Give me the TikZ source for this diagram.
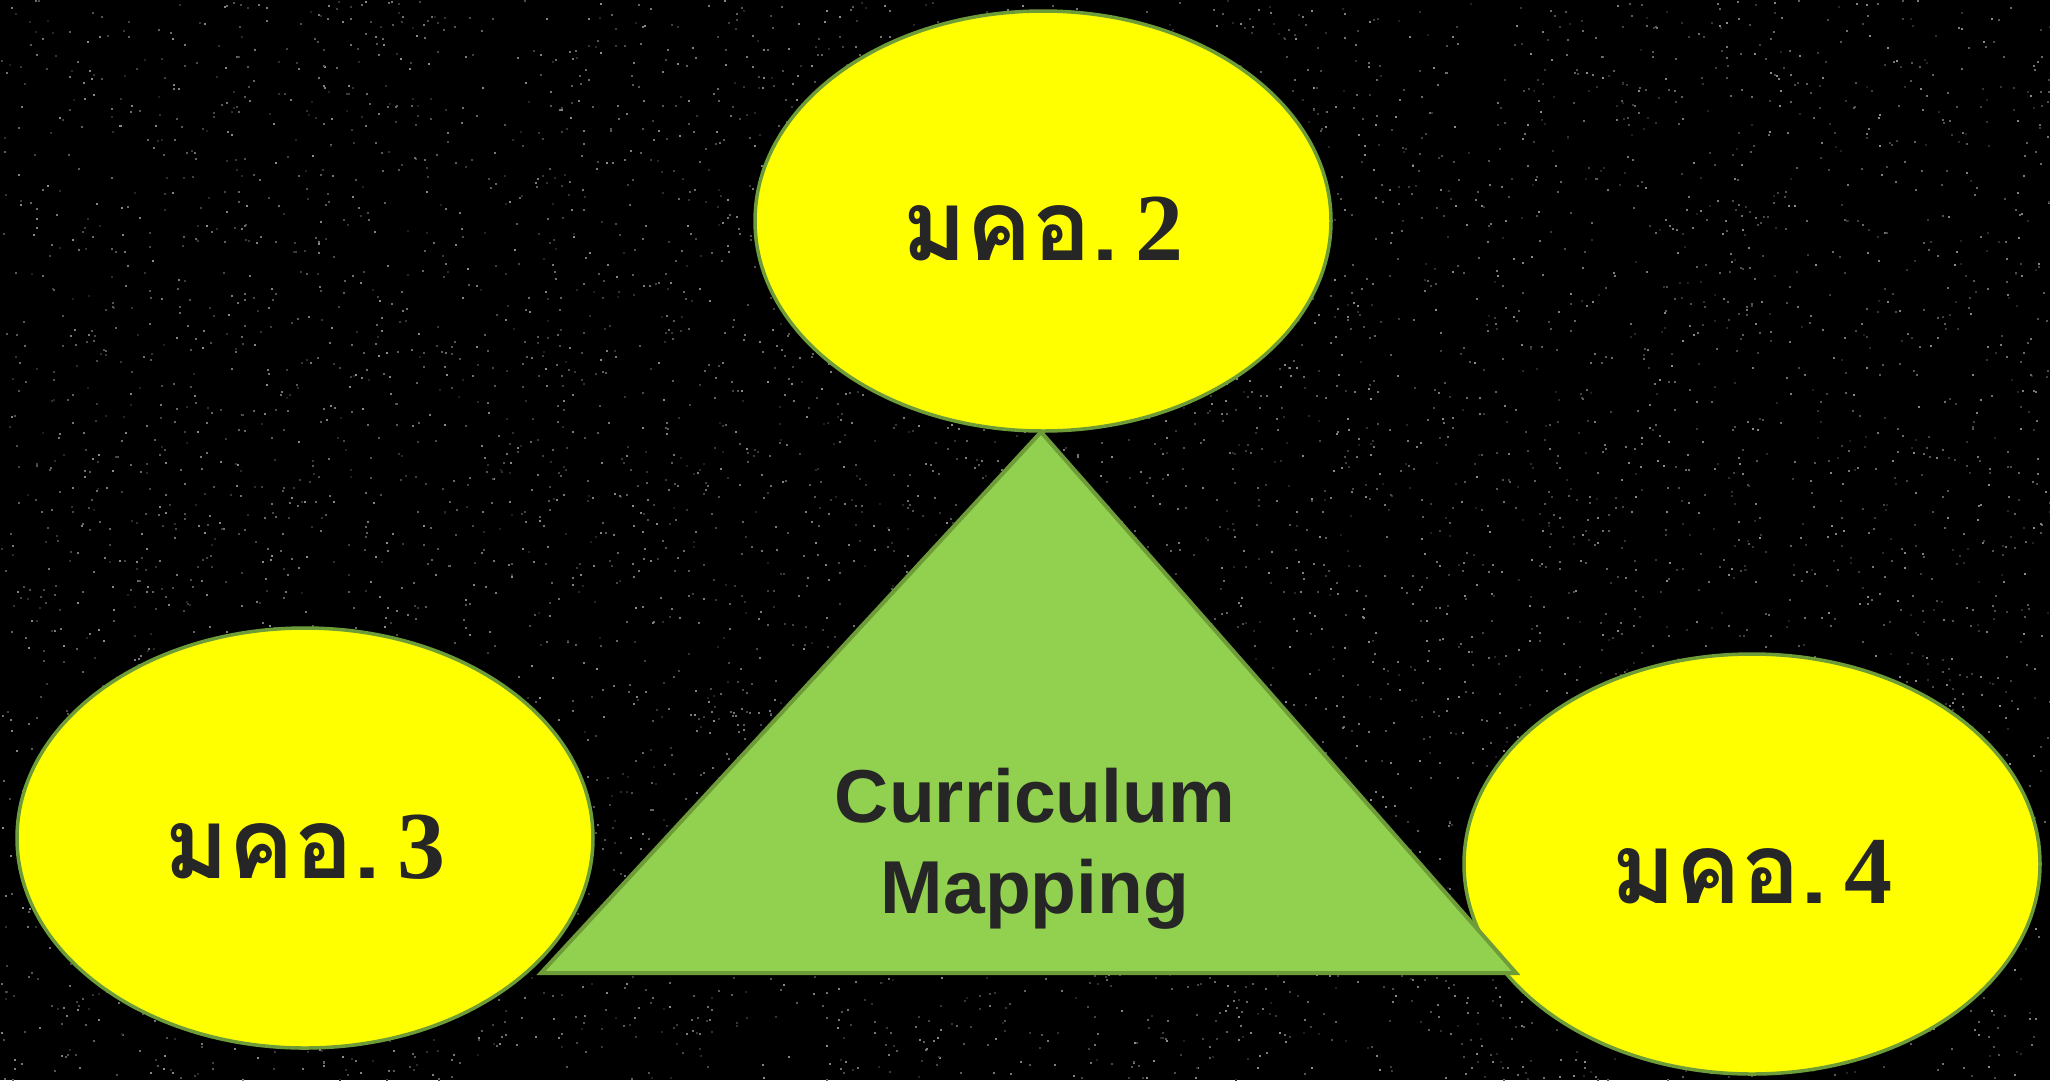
\documentclass[tikz,border=0pt]{standalone}
\usepackage{fontspec}
\usetikzlibrary{shapes.geometric}
\setmainfont{Liberation Serif}
\newfontfamily\thaifont[Script=Thai]{Loma}
\newfontfamily\arialfont{Liberation Sans}
\definecolor{bgblack}{HTML}{000000}
\definecolor{ovalyellow}{HTML}{FFFF00}
\definecolor{edgegreen}{HTML}{6E9C38}
\definecolor{trigreen}{HTML}{92D050}
\definecolor{txtdark}{HTML}{262626}
\tikzset{
  oval/.style={ellipse, draw=edgegreen, line width=3.5pt, fill=ovalyellow,
    minimum width=576pt, minimum height=420pt, inner sep=0pt},
  ovaltext/.style={anchor=base, text=txtdark, inner sep=0pt},
  tri/.style={draw=edgegreen, line width=4pt, fill=trigreen, line join=miter},
  tritext/.style={anchor=base, align=center, text=txtdark, inner sep=0pt,
    font=\arialfont\bfseries\fontsize{75}{91}\selectfont},
}
\newcommand{\mkolabel}[1]{{\thaifont\bfseries\fontsize{98}{110}\selectfont มคอ.}\,{\bfseries\fontsize{96}{110}\selectfont\,#1}}
\begin{document}
\begin{tikzpicture}[x=1pt,y=-1pt]
\useasboundingbox (0,0) rectangle (2050,1080);
\fill[bgblack] (0,0) rectangle (2050,1080);
% star field
\pgfmathsetseed{7}
\foreach \i in {1,...,7000}{
  \pgfmathsetmacro{\sx}{random(0,2049)}
  \pgfmathsetmacro{\sy}{random(0,1079)}
  \pgfmathtruncatemacro{\sg}{random(12,55)}
  \fill[white!\sg!black] (\sx,\sy) rectangle ++(1.8,1.8);
}
% ovals
\node[oval] (top) at (1043,221) {};
\node[oval] (left) at (305,838) {};
\node[oval] (right) at (1752,864) {};
\node[ovaltext] (toptxt) at (1043,260) {\mkolabel{2}};
\node[ovaltext] (lefttxt) at (305,878) {\mkolabel{3}};
\node[ovaltext] (righttxt) at (1752,903) {\mkolabel{4}};
% triangle
\coordinate (apex) at (1041,432);
\coordinate (bl) at (541,973);
\coordinate (br) at (1516,973);
\draw[tri] (apex) -- (br) -- (bl) -- cycle;
\node[tritext] (cm) at (1035,913) {Curriculum\\Mapping};
\end{tikzpicture}
\end{document}
